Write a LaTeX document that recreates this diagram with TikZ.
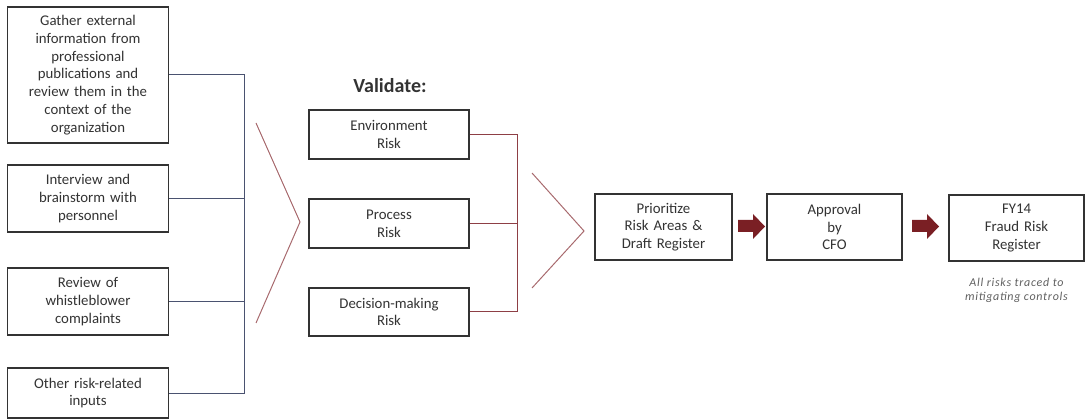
\documentclass[tikz,border=0pt]{standalone}
\usepackage{fontspec}
\setmainfont{Carlito}
\usetikzlibrary{calc}
\definecolor{boxline}{HTML}{333333}
\definecolor{navyline}{HTML}{4A5270}
\definecolor{maroonline}{HTML}{8E3F45}
\definecolor{chevron}{HTML}{A86A6E}
\definecolor{arrowfill}{HTML}{7A1F24}
\definecolor{notegray}{HTML}{606060}
\tikzset{
  stepbox/.style={draw=boxline, line width=1.4pt, fill=white, align=center,
    inner sep=2pt, font=\fontsize{14.8}{17.8}\selectfont, text=black!80},
  inbox/.style={stepbox, minimum width=161pt, text width=155pt},
  riskbox/.style={stepbox, minimum width=160pt, minimum height=48pt, text width=155pt},
  outbox/.style={stepbox, minimum height=66pt},
  leftbus/.style={draw=navyline, line width=1pt},
  rightbus/.style={draw=maroonline, line width=1pt},
  chev/.style={draw=chevron, line width=1pt},
  blockarrow/.style={fill=arrowfill, draw=none},
}
\begin{document}
\begin{tikzpicture}[x=1pt, y=-1pt]
\useasboundingbox (0,0) rectangle (1086,419);

% input sources
\node[inbox, minimum height=136pt] (gather) at (88,75)
  {Gather external\\information from\\professional\\publications and\\review them in the\\context of the\\organization};
\node[inbox, minimum height=67pt] (interview) at (88,198.5)
  {Interview and\\brainstorm with\\personnel};
\node[inbox, minimum height=67pt] (whistle) at (88,301.5)
  {Review of\\whistleblower\\complaints};
\node[inbox, minimum height=50pt] (other) at (88,393)
  {Other risk-related\\inputs};

\coordinate (busL) at (244,0);
\draw[leftbus] (gather.east) -- (gather.east -| busL) |- (other.east);
\draw[leftbus] (interview.east) -- (interview.east -| busL);
\draw[leftbus] (whistle.east) -- (whistle.east -| busL);

% first chevron
\coordinate (c1a) at (256,123);
\coordinate (c1b) at (300,222);
\coordinate (c1c) at (256,323);
\draw[chev] (c1a) -- (c1b) -- (c1c);

% validation step
\node[font=\fontsize{20}{24}\selectfont\bfseries, text=black!80] (validate) at (390,86) {Validate:};
\node[riskbox, minimum height=49pt] (env) at (389,134.5) {Environment\\Risk};
\node[riskbox, minimum height=49pt] (proc) at (389,223.5) {Process\\Risk};
\node[riskbox] (dec) at (389,312) {Decision-making\\Risk};

\coordinate (busR) at (517,0);
\draw[rightbus] (env.east) -- (env.east -| busR) |- (dec.east);
\draw[rightbus] (proc.east) -- (proc.east -| busR);

% second chevron
\coordinate (c2a) at (532,173);
\coordinate (c2b) at (584,231);
\coordinate (c2c) at (532,288);
\draw[chev] (c2a) -- (c2b) -- (c2c);

% output steps
\node[outbox, minimum width=137pt, text width=132pt] (prio) at (663.5,227)
  {Prioritize\\Risk Areas \&\\Draft Register};
\node[outbox, minimum width=135pt, text width=130pt] (approve) at (834.5,227)
  {Approval\\by\\CFO};
\node[outbox, minimum width=135pt, text width=130pt] (register) at (1016.5,228)
  {FY14\\Fraud Risk\\Register};

% block arrows between output steps
\fill[blockarrow] (738,220) -- (753,220) -- (753,214) -- (765,226.5)
  -- (753,239) -- (753,232) -- (738,232) -- cycle;
\fill[blockarrow] (912,220) -- (927,220) -- (927,214) -- (939,226.5)
  -- (927,239) -- (927,232) -- (912,232) -- cycle;

\node[align=center, font=\fontsize{12}{14}\selectfont\itshape\addfontfeatures{LetterSpace=6}, text=notegray,
  anchor=north] (note) at (register.south |- 0,275)
  {All risks traced to\\mitigating controls};
\end{tikzpicture}
\end{document}
